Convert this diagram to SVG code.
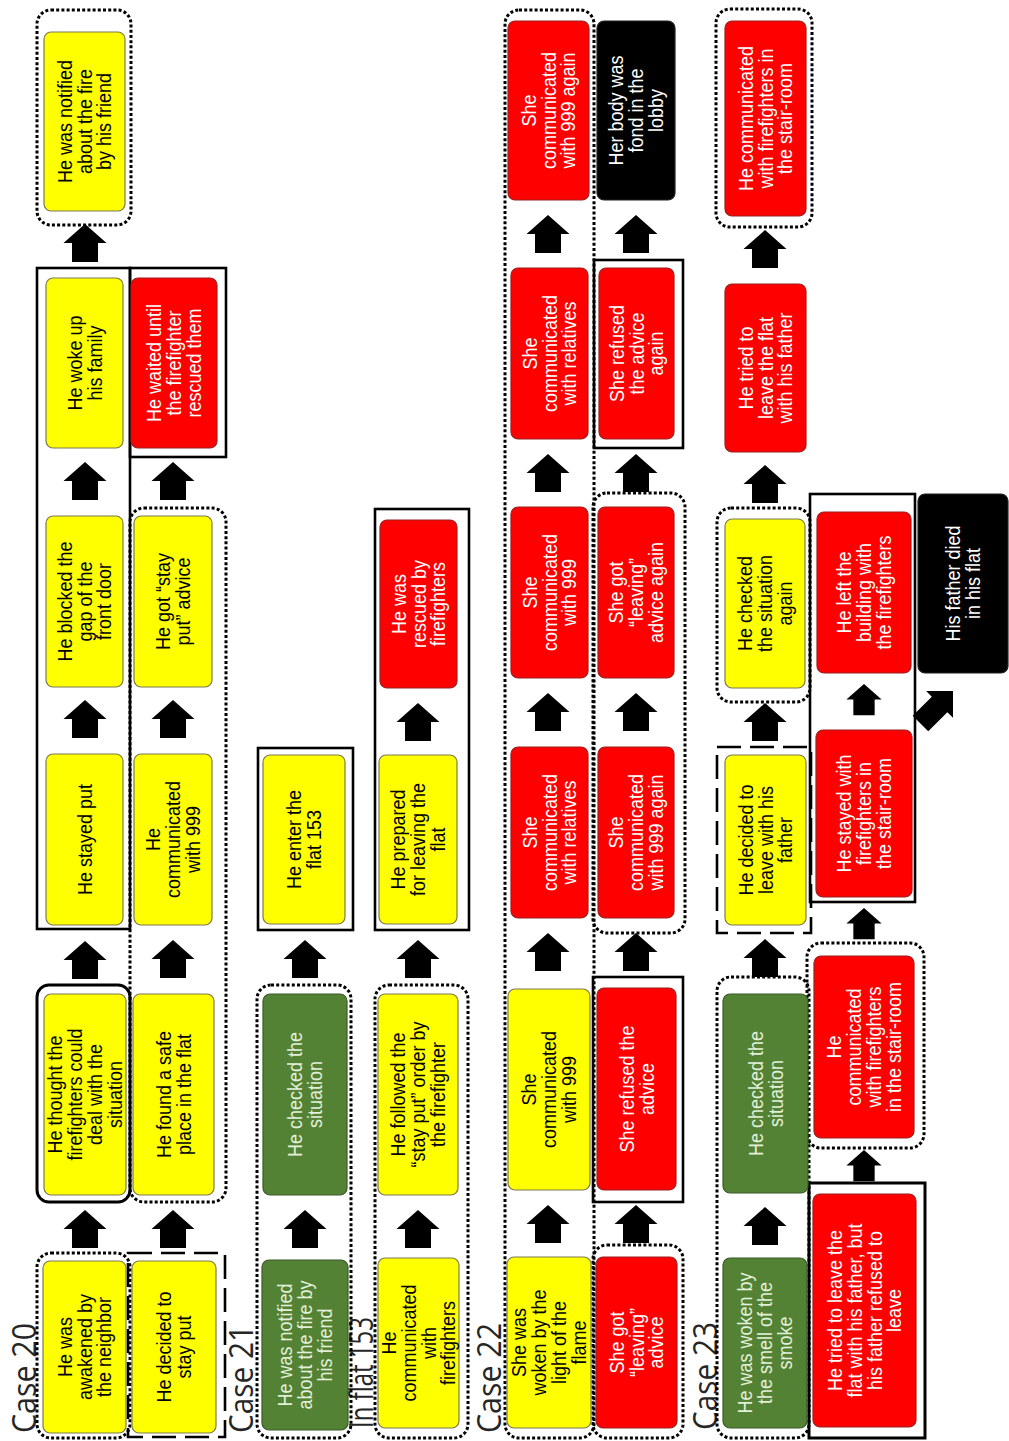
<svg xmlns="http://www.w3.org/2000/svg" xmlns:xlink="http://www.w3.org/1999/xlink" width="1009" height="1441" viewBox="0 0 1009 1441">
<style>
.y{fill:#FFFF00;stroke:#7a7a50;stroke-width:1.2}
.r{fill:#FF0000;stroke:#9a2020;stroke-width:1.2}
.g{fill:#548235;stroke:#3b5a28;stroke-width:1.2}
.b{fill:#000;stroke:#222;stroke-width:1.2}
.t{font-family:"Liberation Sans",Arial,sans-serif;font-size:20px;text-anchor:middle}
.k{fill:#000}.w{fill:#fff}.gw{fill:#E2F0D9}
.dot{fill:none;stroke:#000;stroke-width:3;stroke-dasharray:3 2.2}
.sol{fill:none;stroke:#000;stroke-width:2.6}
.dash{fill:none;stroke:#000;stroke-width:2.6;stroke-dasharray:24 9}
.lab{font-family:"Open Sans","Liberation Sans",sans-serif;font-size:32px;fill:#262626}
</style>
<defs>
<path id="arr" d="M0,0 L21.5,19 L13,19 L13,38 L-13,38 L-13,19 L-21.5,19 Z" fill="#000"/>
</defs>

<g id="labels">
<text class="lab" transform="translate(36,1433) rotate(-90)" textLength="110" lengthAdjust="spacingAndGlyphs">Case 20</text>
<text class="lab" transform="translate(253,1433) rotate(-90)" textLength="108" lengthAdjust="spacingAndGlyphs">Case 21</text>
<text class="lab" transform="translate(373,1428) rotate(-90)" textLength="111" lengthAdjust="spacingAndGlyphs">In flat 153</text>
<text class="lab" transform="translate(501,1433) rotate(-90)" textLength="110" lengthAdjust="spacingAndGlyphs">Case 22</text>
<text class="lab" transform="translate(717,1430) rotate(-90)" textLength="108" lengthAdjust="spacingAndGlyphs">Case 23</text>
</g>

<g id="containers">
<rect class="dot" x="37" y="1253" width="93" height="185" rx="14"/>
<rect class="sol" x="37" y="985" width="93" height="217" rx="12" style="stroke-width:3"/>
<rect class="sol" x="37" y="268" width="93" height="661"/>
<rect class="dot" x="37" y="10" width="94" height="215" rx="14"/>
<rect class="dash" x="128" y="1253" width="97" height="184"/>
<rect class="dot" x="130" y="508" width="96" height="694" rx="14"/>
<rect class="sol" x="130" y="268" width="96" height="189"/>
<rect class="dot" x="257" y="985" width="94" height="453" rx="14"/>
<rect class="sol" x="258" y="748" width="95" height="182"/>
<rect class="dot" x="375" y="985" width="93" height="453" rx="14"/>
<rect class="sol" x="375" y="509" width="94" height="421"/>
<rect class="dot" x="505" y="10" width="89" height="1428" rx="14"/>
<rect class="dot" x="593" y="1245" width="90" height="193" rx="14"/>
<rect class="sol" x="593" y="977" width="90" height="225"/>
<rect class="dot" x="593" y="493" width="92" height="440" rx="14"/>
<rect class="sol" x="594" y="260" width="89" height="188"/>
<rect class="dot" x="717" y="977" width="92" height="461" rx="14"/>
<rect class="dash" x="717" y="747" width="94" height="186"/>
<rect class="dot" x="717" y="508" width="93" height="194" rx="14"/>
<rect class="dot" x="716" y="9" width="96" height="218" rx="14"/>
<rect class="sol" x="809" y="1183" width="116" height="255" style="stroke-width:3"/>
<rect class="dot" x="807" y="943" width="117" height="205" rx="14"/>
<rect class="sol" x="810" y="494" width="105" height="408"/>
</g>

<g id="connectors">
<use xlink:href="#arr" x="85" y="1210"/>
<use xlink:href="#arr" x="85" y="941"/>
<use xlink:href="#arr" x="85" y="700"/>
<use xlink:href="#arr" x="85" y="462"/>
<use xlink:href="#arr" x="85" y="224"/>
<use xlink:href="#arr" x="173" y="1210"/>
<use xlink:href="#arr" x="173" y="940"/>
<use xlink:href="#arr" x="173" y="700"/>
<use xlink:href="#arr" x="173" y="462"/>
<use xlink:href="#arr" x="305" y="1210"/>
<use xlink:href="#arr" x="305" y="940"/>
<use xlink:href="#arr" x="418" y="1210"/>
<use xlink:href="#arr" x="418" y="940"/>
<use xlink:href="#arr" x="418" y="703"/>
<use xlink:href="#arr" x="548" y="1205"/>
<use xlink:href="#arr" x="548" y="933"/>
<use xlink:href="#arr" x="548" y="693"/>
<use xlink:href="#arr" x="548" y="454"/>
<use xlink:href="#arr" x="548" y="215"/>
<use xlink:href="#arr" x="636" y="1205"/>
<use xlink:href="#arr" x="636" y="933"/>
<use xlink:href="#arr" x="636" y="693"/>
<use xlink:href="#arr" x="636" y="454"/>
<use xlink:href="#arr" x="636" y="215"/>
<use xlink:href="#arr" x="765" y="1207"/>
<use xlink:href="#arr" x="765" y="939"/>
<use xlink:href="#arr" x="765" y="703"/>
<use xlink:href="#arr" x="765" y="465"/>
<use xlink:href="#arr" x="765" y="230"/>
<use xlink:href="#arr" transform="translate(864,1150) scale(0.82)"/>
<use xlink:href="#arr" transform="translate(864,908) scale(0.82)"/>
<use xlink:href="#arr" transform="translate(864,684) scale(0.82)"/>
<path d="M0,0 L19,19 L11,19 L11,46 L-11,46 L-11,19 L-19,19 Z" fill="#000" transform="translate(953,691) rotate(45)"/>
</g>

<!-- Case 20 -->
<g id="c20-awakened"><rect class="y" x="43" y="1261" width="83" height="172" rx="7"/>
<g transform="translate(84.5,1347) rotate(-90) scale(0.9,1)"><text class="t k"><tspan x="0" y="-13">He was</tspan><tspan x="0" y="7">awakened by</tspan><tspan x="0" y="27">the neighbor</tspan></text></g></g>
<g id="c20-thought"><rect class="y" x="44" y="994" width="82" height="201" rx="7"/>
<g transform="translate(85,1094.5) rotate(-90) scale(0.9,1)"><text class="t k"><tspan x="0" y="-23">He thought the</tspan><tspan x="0" y="-3">firefighters could</tspan><tspan x="0" y="17">deal with the</tspan><tspan x="0" y="37">situation</tspan></text></g></g>
<g id="c20-stayed"><rect class="y" x="46" y="754" width="77" height="171" rx="7"/>
<g transform="translate(84.5,839.5) rotate(-90) scale(0.9,1)"><text class="t k"><tspan x="0" y="7">He stayed put</tspan></text></g></g>
<g id="c20-blocked"><rect class="y" x="46" y="516" width="77" height="171" rx="7"/>
<g transform="translate(84.5,601.5) rotate(-90) scale(0.9,1)"><text class="t k"><tspan x="0" y="-13">He blocked the</tspan><tspan x="0" y="7">gap of the</tspan><tspan x="0" y="27">front door</tspan></text></g></g>
<g id="c20-wokeup"><rect class="y" x="46" y="278" width="77" height="170" rx="7"/>
<g transform="translate(84.5,363) rotate(-90) scale(0.9,1)"><text class="t k"><tspan x="0" y="-3">He woke up</tspan><tspan x="0" y="17">his family</tspan></text></g></g>
<g id="c20-notified"><rect class="y" x="44" y="32" width="81" height="179" rx="7"/>
<g transform="translate(84.5,121.5) rotate(-90) scale(0.9,1)"><text class="t k"><tspan x="0" y="-13">He was notified</tspan><tspan x="0" y="7">about the fire</tspan><tspan x="0" y="27">by his friend</tspan></text></g></g>
<g id="c20-decided"><rect class="y" x="132" y="1261" width="84" height="172" rx="7"/>
<g transform="translate(174,1347) rotate(-90) scale(0.9,1)"><text class="t k"><tspan x="0" y="-3">He decided to</tspan><tspan x="0" y="17">stay put</tspan></text></g></g>
<g id="c20-safe"><rect class="y" x="133" y="994" width="81" height="201" rx="7"/>
<g transform="translate(173.5,1094.5) rotate(-90) scale(0.9,1)"><text class="t k"><tspan x="0" y="-3">He found a safe</tspan><tspan x="0" y="17">place in the flat</tspan></text></g></g>
<g id="c20-999"><rect class="y" x="134" y="754" width="78" height="171" rx="7"/>
<g transform="translate(173,839.5) rotate(-90) scale(0.9,1)"><text class="t k"><tspan x="0" y="-13">He</tspan><tspan x="0" y="7">communicated</tspan><tspan x="0" y="27">with 999</tspan></text></g></g>
<g id="c20-stayput-advice"><rect class="y" x="134" y="516" width="78" height="171" rx="7"/>
<g transform="translate(173,601.5) rotate(-90) scale(0.9,1)"><text class="t k"><tspan x="0" y="-3">He got “stay</tspan><tspan x="0" y="17">put” advice</tspan></text></g></g>
<g id="c20-waited"><rect class="r" x="131" y="278" width="86" height="170" rx="7"/>
<g transform="translate(174,363) rotate(-90) scale(0.9,1)"><text class="t w"><tspan x="0" y="-13">He waited until</tspan><tspan x="0" y="7">the firefighter</tspan><tspan x="0" y="27">rescued them</tspan></text></g></g>

<!-- Case 21 -->
<g id="c21-notified"><rect class="g" x="262" y="1260" width="86" height="170" rx="7"/>
<g transform="translate(305,1345) rotate(-90) scale(0.9,1)"><text class="t gw"><tspan x="0" y="-13">He was notified</tspan><tspan x="0" y="7">about the fire by</tspan><tspan x="0" y="27">his friend</tspan></text></g></g>
<g id="c21-checked"><rect class="g" x="263" y="994" width="84" height="201" rx="7"/>
<g transform="translate(305,1094.5) rotate(-90) scale(0.9,1)"><text class="t gw"><tspan x="0" y="-3">He checked the</tspan><tspan x="0" y="17">situation</tspan></text></g></g>
<g id="c21-enter"><rect class="y" x="263" y="755" width="82" height="169" rx="7"/>
<g transform="translate(304,839.5) rotate(-90) scale(0.9,1)"><text class="t k"><tspan x="0" y="-3">He enter the</tspan><tspan x="0" y="17">flat 153</tspan></text></g></g>

<!-- In flat 153 -->
<g id="f153-communicated"><rect class="y" x="378" y="1258" width="81" height="170" rx="7"/>
<g transform="translate(418.5,1343) rotate(-90) scale(0.9,1)"><text class="t k"><tspan x="0" y="-23">He</tspan><tspan x="0" y="-3">communicated</tspan><tspan x="0" y="17">with</tspan><tspan x="0" y="37">firefighters</tspan></text></g></g>
<g id="f153-followed"><rect class="y" x="378" y="994" width="80" height="201" rx="7"/>
<g transform="translate(418,1094.5) rotate(-90) scale(0.9,1)"><text class="t k"><tspan x="0" y="-13">He followed the</tspan><tspan x="0" y="7">“stay put” order by</tspan><tspan x="0" y="27">the firefighter</tspan></text></g></g>
<g id="f153-prepared"><rect class="y" x="379" y="755" width="78" height="169" rx="7"/>
<g transform="translate(418,839.5) rotate(-90) scale(0.9,1)"><text class="t k"><tspan x="0" y="-13">He prepared</tspan><tspan x="0" y="7">for leaving the</tspan><tspan x="0" y="27">flat</tspan></text></g></g>
<g id="f153-rescued"><rect class="r" x="380" y="520" width="77" height="168" rx="7"/>
<g transform="translate(418.5,604) rotate(-90) scale(0.9,1)"><text class="t w"><tspan x="0" y="-13">He was</tspan><tspan x="0" y="7">rescued by</tspan><tspan x="0" y="27">firefighters</tspan></text></g></g>

<!-- Case 22 -->
<g id="c22-woken"><rect class="y" x="507" y="1257" width="84" height="171" rx="7"/>
<g transform="translate(549,1342.5) rotate(-90) scale(0.9,1)"><text class="t k"><tspan x="0" y="-23">She was</tspan><tspan x="0" y="-3">woken by the</tspan><tspan x="0" y="17">light of the</tspan><tspan x="0" y="37">flame</tspan></text></g></g>
<g id="c22-999a"><rect class="y" x="508" y="989" width="82" height="201" rx="7"/>
<g transform="translate(549,1089.5) rotate(-90) scale(0.9,1)"><text class="t k"><tspan x="0" y="-13">She</tspan><tspan x="0" y="7">communicated</tspan><tspan x="0" y="27">with 999</tspan></text></g></g>
<g id="c22-relatives1"><rect class="r" x="511" y="747" width="77" height="171" rx="7"/>
<g transform="translate(549.5,832.5) rotate(-90) scale(0.9,1)"><text class="t w"><tspan x="0" y="-13">She</tspan><tspan x="0" y="7">communicated</tspan><tspan x="0" y="27">with relatives</tspan></text></g></g>
<g id="c22-999b"><rect class="r" x="511" y="507" width="77" height="171" rx="7"/>
<g transform="translate(549.5,592.5) rotate(-90) scale(0.9,1)"><text class="t w"><tspan x="0" y="-13">She</tspan><tspan x="0" y="7">communicated</tspan><tspan x="0" y="27">with 999</tspan></text></g></g>
<g id="c22-relatives2"><rect class="r" x="511" y="268" width="77" height="171" rx="7"/>
<g transform="translate(549.5,353.5) rotate(-90) scale(0.9,1)"><text class="t w"><tspan x="0" y="-13">She</tspan><tspan x="0" y="7">communicated</tspan><tspan x="0" y="27">with relatives</tspan></text></g></g>
<g id="c22-999again"><rect class="r" x="508" y="21" width="81" height="179" rx="7"/>
<g transform="translate(548.5,110.5) rotate(-90) scale(0.9,1)"><text class="t w"><tspan x="0" y="-13">She</tspan><tspan x="0" y="7">communicated</tspan><tspan x="0" y="27">with 999 again</tspan></text></g></g>
<g id="c22-leaving"><rect class="r" x="596" y="1257" width="81" height="171" rx="7"/>
<g transform="translate(636.5,1342.5) rotate(-90) scale(0.9,1)"><text class="t w"><tspan x="0" y="-13">She got</tspan><tspan x="0" y="7">“leaving”</tspan><tspan x="0" y="27">advice</tspan></text></g></g>
<g id="c22-refused"><rect class="r" x="597" y="988" width="79" height="202" rx="7"/>
<g transform="translate(636.5,1089) rotate(-90) scale(0.9,1)"><text class="t w"><tspan x="0" y="-3">She refused the</tspan><tspan x="0" y="17">advice</tspan></text></g></g>
<g id="c22-999c"><rect class="r" x="598" y="747" width="76" height="171" rx="7"/>
<g transform="translate(636,832.5) rotate(-90) scale(0.9,1)"><text class="t w"><tspan x="0" y="-13">She</tspan><tspan x="0" y="7">communicated</tspan><tspan x="0" y="27">with 999 again</tspan></text></g></g>
<g id="c22-leaving-again"><rect class="r" x="598" y="507" width="76" height="171" rx="7"/>
<g transform="translate(636,592.5) rotate(-90) scale(0.9,1)"><text class="t w"><tspan x="0" y="-13">She got</tspan><tspan x="0" y="7">“leaving”</tspan><tspan x="0" y="27">advice again</tspan></text></g></g>
<g id="c22-refused-again"><rect class="r" x="599" y="268" width="75" height="171" rx="7"/>
<g transform="translate(636.5,353.5) rotate(-90) scale(0.9,1)"><text class="t w"><tspan x="0" y="-13">She refused</tspan><tspan x="0" y="7">the advice</tspan><tspan x="0" y="27">again</tspan></text></g></g>
<g id="c22-body"><rect class="b" x="597" y="21" width="78" height="179" rx="7"/>
<g transform="translate(636,110.5) rotate(-90) scale(0.9,1)"><text class="t w"><tspan x="0" y="-13">Her body was</tspan><tspan x="0" y="7">fond in the</tspan><tspan x="0" y="27">lobby</tspan></text></g></g>

<!-- Case 23 -->
<g id="c23-woken"><rect class="g" x="723" y="1258" width="84" height="170" rx="7"/>
<g transform="translate(765,1343) rotate(-90) scale(0.9,1)"><text class="t gw"><tspan x="0" y="-13">He was woken by</tspan><tspan x="0" y="7">the smell of the</tspan><tspan x="0" y="27">smoke</tspan></text></g></g>
<g id="c23-checked"><rect class="g" x="723" y="994" width="85" height="199" rx="7"/>
<g transform="translate(765.5,1093.5) rotate(-90) scale(0.9,1)"><text class="t gw"><tspan x="0" y="-3">He checked the</tspan><tspan x="0" y="17">situation</tspan></text></g></g>
<g id="c23-decided"><rect class="y" x="725" y="755" width="81" height="170" rx="7"/>
<g transform="translate(765.5,840) rotate(-90) scale(0.9,1)"><text class="t k"><tspan x="0" y="-13">He decided to</tspan><tspan x="0" y="7">leave with his</tspan><tspan x="0" y="27">father</tspan></text></g></g>
<g id="c23-checked-again"><rect class="y" x="725" y="519" width="80" height="169" rx="7"/>
<g transform="translate(765,603.5) rotate(-90) scale(0.9,1)"><text class="t k"><tspan x="0" y="-13">He checked</tspan><tspan x="0" y="7">the situation</tspan><tspan x="0" y="27">again</tspan></text></g></g>
<g id="c23-tried"><rect class="r" x="725" y="284" width="81" height="168" rx="7"/>
<g transform="translate(765.5,368) rotate(-90) scale(0.9,1)"><text class="t w"><tspan x="0" y="-13">He tried to</tspan><tspan x="0" y="7">leave the flat</tspan><tspan x="0" y="27">with his father</tspan></text></g></g>
<g id="c23-comm1"><rect class="r" x="725" y="21" width="81" height="195" rx="7"/>
<g transform="translate(765.5,118.5) rotate(-90) scale(0.9,1)"><text class="t w"><tspan x="0" y="-13">He communicated</tspan><tspan x="0" y="7">with firefighters in</tspan><tspan x="0" y="27">the stair-room</tspan></text></g></g>
<g id="c23-tried-refused"><rect class="r" x="813" y="1194" width="103" height="233" rx="7"/>
<g transform="translate(864.5,1310.5) rotate(-90) scale(0.9,1)"><text class="t w"><tspan x="0" y="-23">He tried to leave the</tspan><tspan x="0" y="-3">flat with his father, but</tspan><tspan x="0" y="17">his father refused to</tspan><tspan x="0" y="37">leave</tspan></text></g></g>
<g id="c23-comm2"><rect class="r" x="814" y="956" width="100" height="182" rx="7"/>
<g transform="translate(864,1047) rotate(-90) scale(0.9,1)"><text class="t w"><tspan x="0" y="-23">He</tspan><tspan x="0" y="-3">communicated</tspan><tspan x="0" y="17">with firefighters</tspan><tspan x="0" y="37">in the stair-room</tspan></text></g></g>
<g id="c23-stayed"><rect class="r" x="816" y="730" width="96" height="167" rx="7"/>
<g transform="translate(864,813.5) rotate(-90) scale(0.9,1)"><text class="t w"><tspan x="0" y="-13">He stayed with</tspan><tspan x="0" y="7">firefighters in</tspan><tspan x="0" y="27">the stair-room</tspan></text></g></g>
<g id="c23-left"><rect class="r" x="817" y="512" width="94" height="161" rx="7"/>
<g transform="translate(864,592.5) rotate(-90) scale(0.9,1)"><text class="t w"><tspan x="0" y="-13">He left the</tspan><tspan x="0" y="7">building with</tspan><tspan x="0" y="27">the firefighters</tspan></text></g></g>
<g id="c23-father-died"><rect class="b" x="918" y="494" width="90" height="179" rx="7"/>
<g transform="translate(963,583.5) rotate(-90) scale(0.9,1)"><text class="t w"><tspan x="0" y="-3">His father died</tspan><tspan x="0" y="17">in his flat</tspan></text></g></g>
</svg>
